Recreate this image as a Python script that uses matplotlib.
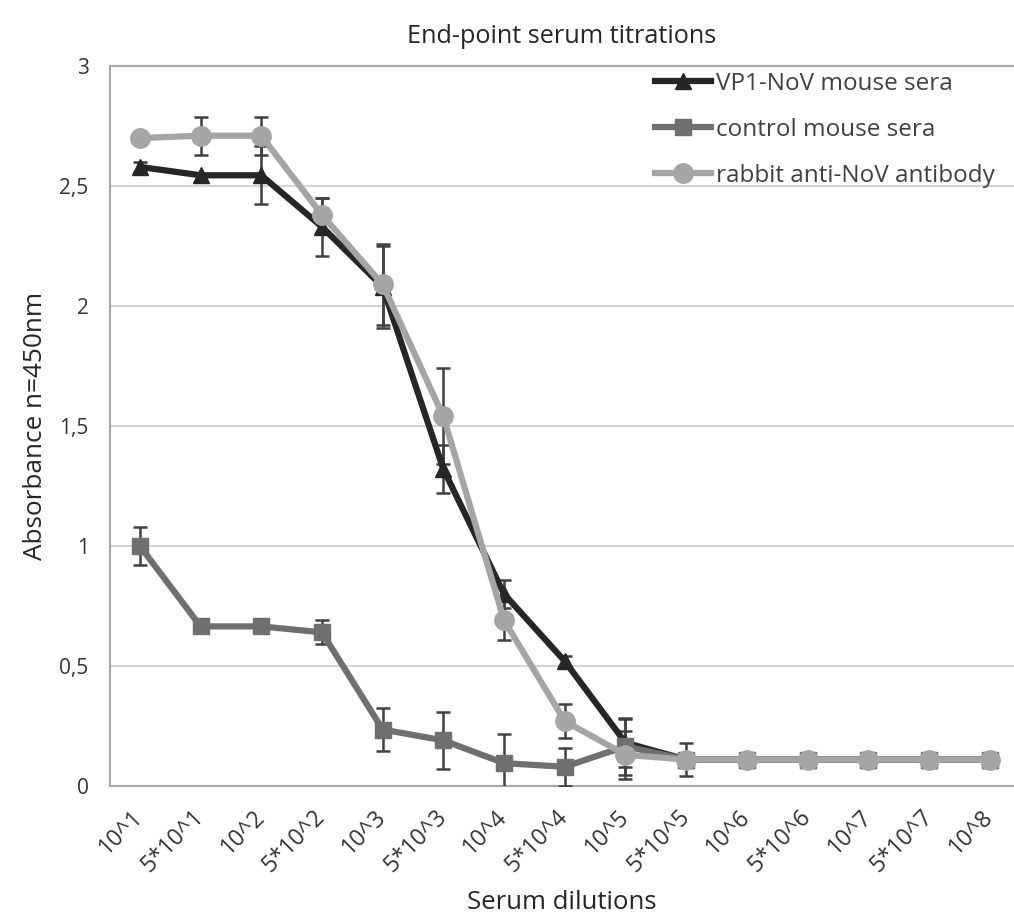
import numpy as np
import matplotlib
matplotlib.use("Agg")
import matplotlib.pyplot as plt

plt.rcParams['font.family'] = ['Open Sans', 'DejaVu Sans']

dilutions = ['10^1', '5*10^1', '10^2', '5*10^2', '10^3', '5*10^3', '10^4', '5*10^4',
             '10^5', '5*10^5', '10^6', '5*10^6', '10^7', '5*10^7', '10^8']

vp1 = [2.58, 2.545, 2.545, 2.33, 2.08, 1.32, 0.80, 0.52, 0.18, 0.11, 0.11, 0.11, 0.11, 0.11, 0.11]
vp1_err = [0.02, 0.0, 0.12, 0.12, 0.17, 0.10, 0.06, 0.02, 0.10, 0.0, 0.0, 0.0, 0.0, 0.0, 0.0]

control = [1.0, 0.665, 0.665, 0.64, 0.235, 0.19, 0.095, 0.08, 0.165, 0.11, 0.11, 0.11, 0.11, 0.11, 0.11]
control_err = [0.08, 0.0, 0.0, 0.05, 0.09, 0.12, 0.12, 0.08, 0.12, 0.07, 0.0, 0.0, 0.0, 0.0, 0.0]

rabbit = [2.70, 2.71, 2.71, 2.38, 2.09, 1.54, 0.69, 0.27, 0.13, 0.11, 0.11, 0.11, 0.11, 0.11, 0.11]
rabbit_err = [0.0, 0.08, 0.08, 0.07, 0.17, 0.20, 0.08, 0.07, 0.10, 0.0, 0.0, 0.0, 0.0, 0.0, 0.0]

x = np.arange(len(dilutions))

fig = plt.figure(figsize=(10.14, 9.17), dpi=100)
ax = fig.add_axes([0.108, 0.1429, 0.892, 0.785])

ebkw = dict(ecolor='#404040', elinewidth=1.8, capsize=5, capthick=1.8, zorder=3)
ax.errorbar(x, vp1, yerr=vp1_err, fmt='none', **ebkw)
ax.errorbar(x, control, yerr=control_err, fmt='none', **ebkw)
ax.errorbar(x, rabbit, yerr=rabbit_err, fmt='none', **ebkw)

ax.plot(x, vp1, color='#262626', lw=4.5, marker='^', ms=11, label='VP1-NoV mouse sera', zorder=4)
ax.plot(x, control, color='#6f6f6f', lw=4.5, marker='s', ms=12, label='control mouse sera', zorder=4)
ax.plot(x, rabbit, color='#a5a5a5', lw=4.5, marker='o', ms=14, label='rabbit anti-NoV antibody', zorder=5)

ax.set_xlim(-0.5, 14.4)
ax.set_ylim(0, 3)
ax.set_yticks(np.arange(0, 3.01, 0.5))
ax.set_yticklabels(['0', '0,5', '1', '1,5', '2', '2,5', '3'], fontsize=15, color='#333333')
ax.set_xticks(x)
ax.set_xticklabels(dilutions, rotation=45, ha='right', va='center', rotation_mode='anchor',
                   fontsize=16.5, color='#333333')
ax.tick_params(length=0)
ax.tick_params(axis='y', pad=15)
ax.tick_params(axis='x', pad=20)

ax.grid(axis='y', color='#d4d4d4', lw=1.5)
ax.set_axisbelow(True)
ax.spines['right'].set_visible(False)
for s in ['left', 'top', 'bottom']:
    ax.spines[s].set_color('#a8a8a8')
    ax.spines[s].set_linewidth(1.5)

ax.set_title('End-point serum titrations', fontsize=18.2, pad=17, color='#262626')
ax.set_xlabel('Serum dilutions', fontsize=18.5, labelpad=9, color='#262626')
ax.set_ylabel('Absorbance n=450nm', fontsize=18.8, labelpad=8, color='#262626')

leg = ax.legend(loc='upper left', bbox_to_anchor=(655 / 1014, 1 - 72 / 917), bbox_transform=fig.transFigure,
                frameon=False, fontsize=17.5, borderpad=0, borderaxespad=0,
                handlelength=2.3, handletextpad=0.2, labelspacing=0.9, labelcolor='#404040')

fig.savefig('out.png', dpi=100)
